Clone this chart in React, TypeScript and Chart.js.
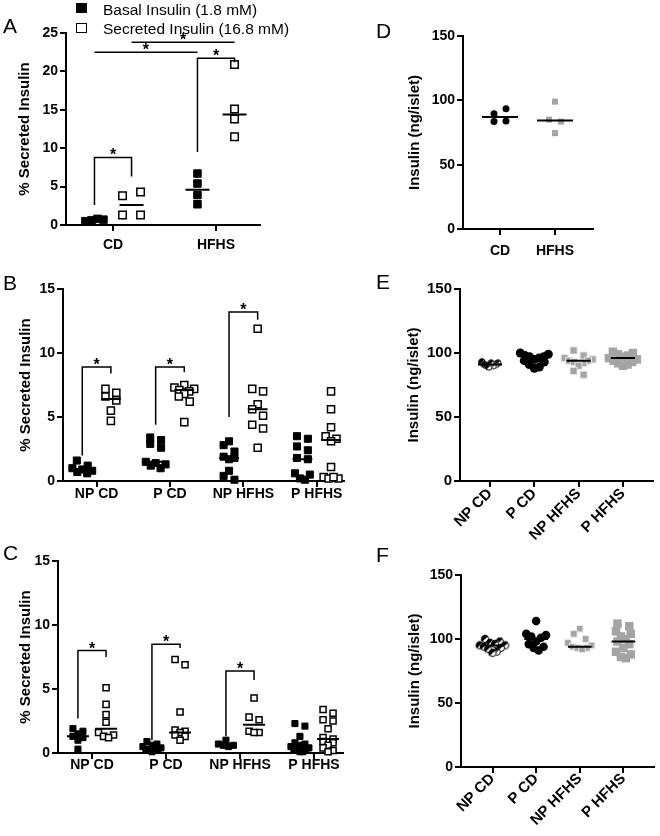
import React, { useEffect, useRef } from 'react';
import { Chart, registerables } from 'chart.js';
Chart.register(...registerables);

const FONT = 'Arial, "Liberation Sans", Helvetica, sans-serif';
Chart.defaults.font.family = FONT;
Chart.defaults.color = '#000';

// ---------------- DATA ----------------
const legendLabels = ['Basal Insulin (1.8 mM)', 'Secreted Insulin (16.8 mM)'];
const panelLetters = ['A', 'B', 'C', 'D', 'E', 'F'];
const yTitleSecreted = '% Secreted Insulin';
const yTitleInsulin = 'Insulin (ng/islet)';

// Panel A
const catsA = ['CD', 'HFHS'];
const yTicksA = [0, 5, 10, 15, 20, 25];
const basalA = [[0.5, 0.7, 0.6, 0.8], [6.7, 5.4, 3.9, 2.7]];
const secretedA = [[3.8, 4.3, 1.3, 1.3], [20.9, 15.1, 13.8, 11.5]];
const basalMedA = [0.6, 4.6];
const secretedMedA = [2.6, 14.4];
// [cat1, side1, cat2, side2, top, leg1 end, leg2 end]
const bracketsA = [
  [1, -1, 1, 1, 8.8, 2.6, 6.3],
  [2, -1, 2, 1, 21.7, 9.5, 21.2],
  [1, -1, 2, -1, 22.5, 22.5, 22.5],
  [1, 1, 2, 1, 23.8, 23.8, 23.8],
];

// Panel B
const catsBC = ['NP CD', 'P CD', 'NP HFHS', 'P HFHS'];
const yTicksBC = [0, 5, 10, 15];
const basalB = [
  [1.6, 1.2, 1.0, 0.8, 0.7, 0.6, 0.9],
  [3.4, 3.2, 2.9, 2.6, 1.5, 1.3, 1.2, 1.0, 1.4],
  [3.1, 2.8, 2.3, 1.9, 1.8, 1.7, 0.8, 0.4, 0.1],
  [3.5, 3.3, 2.7, 2.4, 1.8, 1.7, 0.6, 0.5, 0.2, 0.1],
];
const secretedB = [
  [7.2, 6.9, 6.6, 6.3, 5.5, 4.7],
  [7.5, 7.3, 7.2, 7.1, 7.0, 6.8, 6.6, 6.2, 4.6],
  [11.9, 7.2, 7.0, 6.0, 5.6, 5.1, 4.4, 4.1, 2.6],
  [7.0, 5.6, 4.2, 3.5, 3.3, 3.1, 1.1, 0.3, 0.2, 0.2, 0.3],
];
const basalMedB = [0.9, 1.5, 1.8, 1.7];
const secretedMedB = [6.4, 7.1, 5.6, 3.2];
const bracketsB = [
  [1, -1, 1, 1, 8.9, 2.0, 8.4],
  [2, -1, 2, 1, 8.9, 4.4, 8.5],
  [3, -1, 3, 1, 13.2, 5.0, 12.6],
];

// Panel C
const basalC = [
  [1.9, 1.7, 1.5, 1.3, 1.2, 1.0, 0.3],
  [0.9, 0.7, 0.6, 0.5, 0.4, 0.3, 0.3, 0.2, 0.2, 0.1],
  [1.0, 0.7, 0.6, 0.6, 0.5],
  [2.3, 2.1, 1.3, 0.8, 0.7, 0.6, 0.5, 0.4, 0.3, 0.2, 0.2, 0.1, 0.1],
];
const secretedC = [
  [5.1, 3.8, 3.0, 2.4, 1.6, 1.4, 1.3, 1.2],
  [7.3, 6.9, 3.2, 1.8, 1.7, 1.6, 1.4, 1.3, 1.0],
  [4.3, 2.8, 2.6, 1.7, 1.6, 1.6],
  [3.4, 3.1, 2.6, 2.5, 1.9, 1.2, 1.1, 0.9, 0.8, 0.6, 0.4, 0.2, 0.1],
];
const basalMedC = [1.3, 0.35, 0.6, 0.4];
const secretedMedC = [1.9, 1.6, 2.2, 1.1];
const bracketsC = [
  [1, -1, 1, 1, 8.0, 2.7, 7.5],
  [2, -1, 2, 1, 8.5, 1.0, 8.2],
  [3, -1, 3, 1, 6.4, 1.3, 5.7],
];

// Panel D
const catsD = ['CD', 'HFHS'];
const yTicksDEF = [0, 50, 100, 150];
const insulinD = [[89.5, 93.5, 83.5, 84], [99, 85, 83.5, 74.5]];
const insulinMedD = [87, 84.3];

// Panel E
const catsEF = ['NP CD', 'P CD', 'NP HFHS', 'P HFHS'];
const insulinE = [
  [93, 92, 91, 91, 90, 90, 89, 92],
  [100, 99, 98, 97, 97, 96, 95, 94, 93, 91, 89, 88],
  [102, 98, 96, 95, 94, 94, 93, 92, 90, 86, 83],
  [101, 100, 99, 98, 97, 96, 95, 94, 93, 92, 91, 90],
];
const insulinMedE = [91, 96, 94, 96];

// Panel F
const insulinF = [
  [100, 98, 97, 96, 95, 95, 94, 93, 92, 90, 89],
  [114, 104, 103, 102, 101, 98, 96, 94, 93, 91],
  [108, 104, 100, 97, 95, 94, 93, 93, 92],
  [112, 110, 106, 104, 102, 100, 98, 96, 93, 90, 88, 86, 85],
];
const insulinMedF = [95, 100, 94, 98];

// ---------------- HELPERS ----------------
const GRAY = '#a4a4a4';

function swarm(values: number[], ppu: number, sw: any) {
  const idx = values.map((_, i) => i).sort((a, b) => values[a] - values[b]);
  const off = new Array(values.length).fill(0);
  let row: number[] = [];
  const flush = () => {
    const r = row.slice().sort((a, b) => a - b);
    const n = r.length;
    const w = Math.max(sw.minW, Math.min(sw.maxW, (n - 1) * sw.step));
    // interleave: alternate from left and right ends
    r.forEach((k, j) => {
      const slot = j % 2 === 0 ? j / 2 : n - 1 - (j - 1) / 2;
      off[k] = n > 1 ? -w / 2 + (w * slot) / (n - 1) : 0;
    });
    row = [];
  };
  for (const k of idx) {
    if (row.length && (values[k] - values[row[0]]) * ppu >= sw.size) flush();
    row.push(k);
  }
  if (row.length) flush();
  return off;
}

function groupPoints(groups: number[][], side: number, L: any, sw: any, first = 0) {
  const out: any[] = [];
  groups.forEach((vals, i) => {
    const center = first + i + 1 + side * L.groupOff;
    const off = swarm(vals, L.ppu, sw);
    vals.forEach((v, j) => out.push({ x: center + off[j] / L.ppc, y: v }));
  });
  return out;
}

function medianLine(meds: number[], side: number, L: any) {
  const half = L.medHalf / L.ppc;
  const d: any[] = [];
  meds.forEach((m, i) => {
    const c = i + 1 + side * L.groupOff;
    d.push({ x: c - half, y: m }, { x: c + half, y: m }, { x: c + half, y: null });
  });
  return d;
}

function halfCircle(r: number) {
  const c = document.createElement('canvas');
  const s = Math.ceil(r * 2 + 2);
  c.width = s; c.height = s;
  const g = c.getContext('2d')!;
  const m = s / 2;
  g.beginPath(); g.arc(m, m, r, 0, Math.PI * 2); g.fillStyle = '#fff'; g.fill();
  g.beginPath(); g.moveTo(m, m); g.arc(m, m, r, Math.PI * 0.75, Math.PI * 1.75); g.closePath(); g.fillStyle = '#000'; g.fill();
  g.beginPath(); g.arc(m, m, r - 0.5, 0, Math.PI * 2); g.lineWidth = 1; g.strokeStyle = '#000'; g.stroke();
  return c;
}

function bracketPlugin(items: number[][], groupOff: number) {
  return {
    id: 'brackets',
    afterDatasetsDraw(chart: any) {
      const { ctx } = chart;
      const x = chart.scales.x, y = chart.scales.y;
      ctx.save();
      ctx.strokeStyle = '#000'; ctx.fillStyle = '#000'; ctx.lineWidth = 1.5;
      ctx.font = `bold 16px ${FONT}`;
      ctx.textAlign = 'center'; ctx.textBaseline = 'alphabetic';
      for (const b of items) {
        const x1 = x.getPixelForValue(b[0] + b[1] * groupOff);
        const x2 = x.getPixelForValue(b[2] + b[3] * groupOff);
        const yt = y.getPixelForValue(b[4]);
        const y1 = y.getPixelForValue(b[5]);
        const y2 = y.getPixelForValue(b[6]);
        ctx.beginPath();
        ctx.moveTo(x1, y1); ctx.lineTo(x1, yt); ctx.lineTo(x2, yt); ctx.lineTo(x2, y2);
        ctx.stroke();
        ctx.fillText('*', (x1 + x2) / 2, yt + 3);
      }
      ctx.restore();
    },
  };
}

function makeConfig(L: any, cats: string[], yTicks: number[], yTitle: string, datasets: any[], brackets: number[][]) {
  const xMin = 1 - (L.cat1 - L.aL) / L.ppc;
  const xMax = 1 + (L.aR - L.cat1) / L.ppc;
  const grid = { display: true, drawOnChartArea: false, drawTicks: true, tickLength: 6, color: '#000', lineWidth: 2 };
  const border = { display: true, color: '#000', width: 2 };
  return {
    type: 'scatter',
    data: { datasets },
    options: {
      responsive: false,
      animation: false,
      devicePixelRatio: 1,
      events: [],
      layout: { padding: { left: 0, top: L.aT - L.top, right: L.left + L.w - L.aR, bottom: L.top + L.h - L.aB - L.xH } },
      plugins: { legend: { display: false }, tooltip: { enabled: false } },
      scales: {
        x: {
          type: 'linear', min: xMin, max: xMax,
          afterBuildTicks: (s: any) => { s.ticks = cats.map((_, i) => ({ value: i + 1 })); },
          afterFit: (s: any) => { s.height = L.xH; },
          ticks: {
            autoSkip: false, maxRotation: L.rot, minRotation: L.rot, padding: L.xPad, color: '#000',
            font: { size: L.xFont, weight: 'bold', family: FONT },
            callback: (v: number) => cats[Math.round(v) - 1] ?? '',
          },
          grid, border,
        },
        y: {
          type: 'linear', min: yTicks[0], max: yTicks[yTicks.length - 1],
          afterBuildTicks: (s: any) => { s.ticks = yTicks.map((v) => ({ value: v })); },
          afterFit: (s: any) => { s.width = L.aL - L.left; },
          ticks: { padding: 2, color: '#000', font: { size: L.yFont, weight: 'bold', family: FONT } },
          grid, border,
          title: {
            display: true, text: yTitle, color: '#000',
            font: { size: 15, weight: 'bold', family: FONT, lineHeight: 1.2 },
            padding: { top: L.titleX - 9, bottom: 0 },
          },
        },
      },
    },
    plugins: [bracketPlugin(brackets, L.groupOff)],
  };
}

// ---------------- LAYOUTS ----------------
const LA = { left: 0, top: 0, w: 330, h: 270, aL: 66, aR: 260, aT: 33, aB: 225, cat1: 113, ppc: 103, xH: 30, xPad: 6, xFont: 14, yFont: 14, titleX: 25, rot: 0, ppu: 192 / 25, groupOff: 0.18, medHalf: 12 };
const LB = { left: 0, top: 270, w: 350, h: 270, aL: 63, aR: 347, aT: 289, aB: 481, cat1: 97, ppc: 74.3, xH: 30, xPad: -1, xFont: 14, yFont: 14, titleX: 26, rot: 0, ppu: 192 / 15, groupOff: 0.195, medHalf: 10 };
const LC = { left: 0, top: 540, w: 350, h: 296, aL: 58, aR: 343, aT: 561, aB: 753, cat1: 92, ppc: 74, xH: 30, xPad: -2, xFont: 14, yFont: 14, titleX: 26, rot: 0, ppu: 192 / 15, groupOff: 0.19, medHalf: 11 };
const LD = { left: 390, top: 0, w: 270, h: 270, aL: 463, aR: 593, aT: 36, aB: 229, cat1: 500, ppc: 55, xH: 30, xPad: 8, xFont: 14, yFont: 14, titleX: 25, rot: 0, ppu: 193 / 150, groupOff: 0, medHalf: 18 };
const LE = { left: 390, top: 270, w: 270, h: 290, aL: 460, aR: 653, aT: 289, aB: 481, cat1: 490, ppc: 44.3, xH: 70, xPad: -2, xFont: 15, yFont: 15, titleX: 24, rot: 45, ppu: 192 / 150, groupOff: 0, medHalf: 12 };
const LF = { left: 390, top: 560, w: 270, h: 276, aL: 461, aR: 657, aT: 575, aB: 767, cat1: 493, ppc: 44.3, xH: 60, xPad: -3, xFont: 15, yFont: 14, titleX: 25, rot: 45, ppu: 192 / 150, groupOff: 0, medHalf: 12 };

function medianDataset(data: any[]) {
  return { data, showLine: true, spanGaps: false, borderColor: '#000', borderWidth: 2, pointRadius: 0, clip: false };
}

function twoSeriesConfig(L: any, cats: string[], yTicks: number[], basal: number[][], secreted: number[][], bMed: number[], sMed: number[], brackets: number[][], r: number, sw: any) {
  const datasets = [
    medianDataset(medianLine(bMed, -1, L)),
    medianDataset(medianLine(sMed, 1, L)),
    { label: legendLabels[1], data: groupPoints(secreted, 1, L, sw), pointStyle: 'rect', pointRadius: r, backgroundColor: '#fff', borderColor: '#000', borderWidth: 1.5, clip: false },
    { label: legendLabels[0], data: groupPoints(basal, -1, L, sw), pointStyle: 'rect', pointRadius: r, backgroundColor: '#000', borderColor: '#000', borderWidth: 1, clip: false },
  ];
  return makeConfig(L, cats, yTicks, yTitleSecreted, datasets, brackets);
}

function insulinConfig(L: any, cats: string[], groups: number[][], meds: number[], styles: any[], sw: any, maxWs: number[]) {
  const med = medianDataset(medianLine(meds, 0, L));
  const ds = groups.map((vals, i) => ({
    label: cats[i],
    data: groupPoints([vals], 0, L, { ...sw, maxW: maxWs[i] }, i),
    clip: false,
    ...styles[i],
  }));
  return makeConfig(L, cats, yTicksDEF, yTitleInsulin, [med, ...ds], []);
}

function buildAll() {
  const cfgA = twoSeriesConfig(LA, catsA, yTicksA, basalA, secretedA, basalMedA, secretedMedA, bracketsA, 5.3, { size: 8, step: 6, minW: 18, maxW: 20 });
  const cfgB = twoSeriesConfig(LB, catsBC, yTicksBC, basalB, secretedB, basalMedB, secretedMedB, bracketsB, 5, { size: 7, step: 5, minW: 11, maxW: 26 });
  const cfgC = twoSeriesConfig(LC, catsBC, yTicksBC, basalC, secretedC, basalMedC, secretedMedC, bracketsC, 4.3, { size: 6, step: 5, minW: 10, maxW: 18 });
  const cfgD = insulinConfig(LD, catsD, insulinD, insulinMedD, [
    { pointStyle: 'circle', pointRadius: 3.5, backgroundColor: '#000', borderColor: '#000', borderWidth: 0 },
    { pointStyle: 'rect', pointRadius: 4.3, backgroundColor: GRAY, borderColor: GRAY, borderWidth: 0 },
  ], { size: 7, step: 6, minW: 12 }, [14, 14]);
  const cfgE = insulinConfig(LE, catsEF, insulinE, insulinMedE, [
    { pointStyle: halfCircle(3.6), pointRadius: 3.6 },
    { pointStyle: 'circle', pointRadius: 4.5, backgroundColor: '#000', borderColor: '#000', borderWidth: 0 },
    { pointStyle: 'rect', pointRadius: 5, backgroundColor: GRAY, borderColor: '#e8e8e8', borderWidth: 1 },
    { pointStyle: 'rect', pointRadius: 6, backgroundColor: GRAY, borderColor: GRAY, borderWidth: 0 },
  ], { size: 8, step: 5, minW: 10 }, [16, 28, 28, 28]);
  const cfgF = insulinConfig(LF, catsEF, insulinF, insulinMedF, [
    { pointStyle: halfCircle(4), pointRadius: 4 },
    { pointStyle: 'circle', pointRadius: 4.3, backgroundColor: '#000', borderColor: '#000', borderWidth: 0 },
    { pointStyle: 'rect', pointRadius: 4.6, backgroundColor: GRAY, borderColor: '#e8e8e8', borderWidth: 1 },
    { pointStyle: 'rect', pointRadius: 6, backgroundColor: GRAY, borderColor: GRAY, borderWidth: 0 },
  ], { size: 8, step: 5, minW: 12 }, [26, 28, 24, 28]);
  return [
    { L: LA, cfg: cfgA }, { L: LB, cfg: cfgB }, { L: LC, cfg: cfgC },
    { L: LD, cfg: cfgD }, { L: LE, cfg: cfgE }, { L: LF, cfg: cfgF },
  ];
}

function Panel({ L, cfg }: { L: any; cfg: any }) {
  const ref = useRef<HTMLCanvasElement>(null);
  useEffect(() => {
    const chart = new Chart(ref.current as HTMLCanvasElement, cfg);
    return () => chart.destroy();
  }, [cfg]);
  return (
    <canvas
      ref={ref}
      width={L.w}
      height={L.h}
      style={{ position: 'absolute', left: L.left, top: L.top, width: L.w, height: L.h }}
    />
  );
}

const letterPos = [
  [3, 15], [3, 272], [3, 542], [376, 20], [376, 271], [376, 544],
];

export default function App() {
  const panels = React.useMemo(() => buildAll(), []);
  const textBase: React.CSSProperties = { position: 'absolute', fontFamily: FONT, color: '#000', whiteSpace: 'nowrap' };
  return (
    <div style={{ position: 'absolute', left: 0, top: 0, width: 660, height: 836, background: '#fff', overflow: 'hidden' }}>
      {panels.map((p, i) => <Panel key={i} L={p.L} cfg={p.cfg} />)}
      {panelLetters.map((t, i) => (
        <div key={t} style={{ ...textBase, left: letterPos[i][0], top: letterPos[i][1], fontSize: 21, lineHeight: '21px' }}>{t}</div>
      ))}
      <div style={{ position: 'absolute', left: 76, top: 3, width: 11, height: 10, background: '#000' }} />
      <div style={{ ...textBase, left: 103, top: 2, fontSize: 15.5, lineHeight: '15px' }}>{legendLabels[0]}</div>
      <div style={{ position: 'absolute', left: 76, top: 23, width: 11, height: 10, boxSizing: 'border-box', border: '1.5px solid #000', background: '#fff' }} />
      <div style={{ ...textBase, left: 103, top: 21, fontSize: 15.5, lineHeight: '15px' }}>{legendLabels[1]}</div>
    </div>
  );
}
